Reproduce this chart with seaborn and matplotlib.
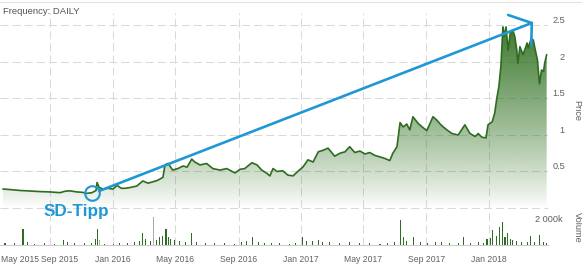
import numpy as np
import pandas as pd
import seaborn as sns
import matplotlib
matplotlib.use("Agg")
import matplotlib.pyplot as plt
from matplotlib.patches import PathPatch
from matplotlib.lines import Line2D
from matplotlib.transforms import ScaledTranslation
import matplotlib.dates as mdates

# ---------------- data ----------------
price_dates = [
    "2015-06-01", "2015-06-19", "2015-07-04", "2015-07-18", "2015-07-30", "2015-08-12",
    "2015-09-01", "2015-09-10", "2015-09-20", "2015-09-30", "2015-10-09", "2015-10-23",
    "2015-11-02", "2015-11-11", "2015-11-21", "2015-11-29", "2015-12-01", "2015-12-05",
    "2015-12-13", "2015-12-22", "2016-01-01", "2016-01-09", "2016-01-17", "2016-01-24",
    "2016-02-03", "2016-02-16", "2016-02-28", "2016-03-09", "2016-03-19", "2016-03-28",
    "2016-04-07", "2016-04-11", "2016-04-17", "2016-04-26", "2016-05-06", "2016-05-16",
    "2016-05-24", "2016-06-02", "2016-06-08", "2016-06-18", "2016-07-01", "2016-07-13",
    "2016-07-27", "2016-08-09", "2016-08-25", "2016-09-04", "2016-09-13", "2016-09-27",
    "2016-10-07", "2016-10-16", "2016-10-26", "2016-11-01", "2016-11-07", "2016-11-15",
    "2016-11-26", "2016-12-06", "2016-12-16", "2016-12-25", "2017-01-04", "2017-01-14",
    "2017-01-24", "2017-02-03", "2017-02-12", "2017-02-22", "2017-03-07", "2017-03-17",
    "2017-03-27", "2017-04-05", "2017-04-15", "2017-04-25", "2017-05-05", "2017-05-14",
    "2017-05-24", "2017-06-03", "2017-06-12", "2017-06-22", "2017-06-28", "2017-07-06",
    "2017-07-12", "2017-07-18", "2017-07-25", "2017-07-31", "2017-08-06", "2017-08-16",
    "2017-08-24", "2017-09-02", "2017-09-14", "2017-09-22", "2017-09-28", "2017-10-04",
    "2017-10-11", "2017-10-21", "2017-11-02", "2017-11-15", "2017-11-25", "2017-12-05",
    "2017-12-11", "2017-12-18", "2017-12-26", "2017-12-30", "2018-01-07", "2018-01-12",
    "2018-01-16", "2018-01-20", "2018-01-24", "2018-01-28", "2018-01-30", "2018-02-03",
    "2018-02-07", "2018-02-11", "2018-02-16", "2018-02-20", "2018-02-24", "2018-02-26",
    "2018-03-02", "2018-03-08", "2018-03-16", "2018-03-18", "2018-03-24", "2018-03-28",
    "2018-04-01", "2018-04-05", "2018-04-09", "2018-04-13", "2018-04-17", "2018-04-19",
    "2018-04-23",
]
price_values = [
    0.26, 0.25, 0.24, 0.235, 0.23, 0.225,
    0.22, 0.215, 0.21, 0.23, 0.235, 0.22,
    0.215, 0.20, 0.21, 0.24, 0.35, 0.28,
    0.26, 0.27, 0.26, 0.31, 0.27, 0.27,
    0.28, 0.30, 0.37, 0.34, 0.36, 0.38,
    0.42, 0.59, 0.61, 0.52, 0.54, 0.575,
    0.56, 0.67, 0.63, 0.59, 0.61, 0.54,
    0.52, 0.54, 0.48, 0.53, 0.54, 0.62,
    0.59, 0.52, 0.475, 0.44, 0.54, 0.50,
    0.51, 0.45, 0.44, 0.50, 0.56, 0.66,
    0.63, 0.77, 0.79, 0.82, 0.71, 0.75,
    0.77, 0.84, 0.76, 0.78, 0.74, 0.76,
    0.72, 0.70, 0.68, 0.65, 0.75, 0.84,
    1.17, 1.11, 1.15, 1.07, 1.25, 1.16,
    1.11, 1.06, 1.25, 1.20, 1.15, 1.11,
    1.07, 1.02, 1.00, 1.14, 1.02, 0.98,
    1.02, 0.97, 0.96, 1.14, 1.18, 1.30,
    1.50, 1.66, 1.94, 2.48, 2.35, 2.48,
    2.16, 2.39, 2.44, 2.35, 2.16, 1.98,
    2.21, 2.10, 2.26, 2.19, 2.32, 2.30,
    2.16, 2.03, 1.70, 1.89, 1.87, 1.98,
    2.10,
]

vol_dates = [
    "2015-06-05", "2015-06-24", "2015-07-10", "2015-07-18", "2015-08-02", "2015-08-21",
    "2015-09-10", "2015-09-26", "2015-10-05", "2015-10-19", "2015-11-07", "2015-11-21",
    "2015-11-27", "2015-12-01", "2015-12-05", "2015-12-16", "2016-01-01", "2016-01-14",
    "2016-01-30", "2016-02-12", "2016-02-22", "2016-02-28", "2016-03-05", "2016-03-13",
    "2016-03-19", "2016-03-26", "2016-04-01", "2016-04-07", "2016-04-13", "2016-04-17",
    "2016-04-22", "2016-04-30", "2016-05-10", "2016-05-20", "2016-06-02", "2016-06-12",
    "2016-06-28", "2016-07-17", "2016-08-05", "2016-08-25", "2016-09-07", "2016-09-17",
    "2016-09-29", "2016-10-09", "2016-10-22", "2016-11-05", "2016-11-20", "2016-12-10",
    "2016-12-21", "2017-01-04", "2017-01-12", "2017-01-22", "2017-02-03", "2017-02-12",
    "2017-02-25", "2017-03-17", "2017-04-05", "2017-04-25", "2017-05-14", "2017-06-03",
    "2017-06-18", "2017-07-02", "2017-07-12", "2017-07-18", "2017-07-25", "2017-08-08",
    "2017-08-20", "2017-09-04", "2017-09-18", "2017-10-01", "2017-10-17", "2017-11-02",
    "2017-11-13", "2017-11-25", "2017-12-11", "2017-12-22", "2017-12-28", "2018-01-03",
    "2018-01-08", "2018-01-16", "2018-01-22", "2018-01-28", "2018-02-01", "2018-02-05",
    "2018-02-11", "2018-02-16", "2018-02-24", "2018-03-06", "2018-03-16", "2018-03-22",
    "2018-03-30", "2018-04-09", "2018-04-17", "2018-04-23",
]
vol_values = [  # thousands
    120, 150, 1280, 200, 100, 120,
    90, 380, 200, 150, 130, 180,
    500, 1280, 400, 100, 80, 150,
    120, 200, 350, 950, 500, 300,
    2180, 400, 600, 700, 1280, 650,
    500, 400, 300, 250, 920, 200,
    180, 150, 180, 100, 250, 300,
    640, 200, 150, 120, 150, 100,
    180, 640, 350, 300, 380, 250,
    200, 150, 200, 150, 120, 100,
    120, 250, 1980, 600, 300, 640,
    200, 150, 200, 250, 150, 180,
    640, 150, 200, 150, 460, 540,
    1150, 700, 1400, 1800, 600, 920,
    500, 400, 300, 200, 250, 690,
    200, 770, 200, 150,
]
vol_grey_dates = ["2016-03-19", "2015-12-05"]

tick_dates = ["2015-09-01", "2016-01-01", "2016-05-01", "2016-09-01", "2017-01-01",
              "2017-05-01", "2017-09-01", "2018-01-01"]
tick_labels = ["Sep 2015", "Jan 2016", "May 2016", "Sep 2016", "Jan 2017",
               "May 2017", "Sep 2017", "Jan 2018"]
first_label = "May 2015"
price_ticks = [0.5, 1, 1.5, 2, 2.5]
price_tick_labels = ["0.5", "1", "1.5", "2", "2.5"]
vol_ticks = [2000]
vol_tick_labels = ["2 000k"]

# annotation (blue arrow + circle)
tip_date, tip_price = "2015-11-21", 0.205
arrow_start = ("2015-12-05", 0.233)
arrow_apex = ("2018-03-25", 2.534)
arrow_barb1 = ("2018-02-07", 2.644)
arrow_barb2 = ("2018-03-24", 2.233)
tip_text = "SD-Tipp"
tip_text_pos = ("2015-10-21", -0.116)

# ---------------- style ----------------
sns.set_style("white")
plt.rcParams["font.family"] = ["Liberation Sans", "DejaVu Sans"]
plt.rcParams["lines.scale_dashes"] = False

GREEN_LINE = "#2f6b22"
GREEN_FILL = (0.20, 0.45, 0.14)
BLUE = "#1e98d4"
GRID = "#d9d9d9"
TXT = "#606060"
DASH = (0, (5.8, 2.9))
XLAB = 6.2

W, H = 582, 266
fig = plt.figure(figsize=(W / 100, H / 100), dpi=100)


def rect(x0, y0, x1, y1):
    return [x0 / W, 1 - y1 / H, (x1 - x0) / W, (y1 - y0) / H]


ax = fig.add_axes(rect(0, 13, 548, 208))
axv = fig.add_axes(rect(0, 209, 548, 245))
axv.set_facecolor("none")

x_lo = pd.Timestamp("2015-05-26 07:00")
x_hi = pd.Timestamp("2018-04-25 14:00")
y_hi = 2.671

df = pd.DataFrame({"date": pd.to_datetime(price_dates), "price": price_values})
sns.lineplot(data=df, x="date", y="price", ax=ax, color=GREEN_LINE,
             linewidth=1.2, zorder=4)

# gradient area under the line
poly = ax.fill_between(df["date"], df["price"], 0, facecolor="none", edgecolor="none")
clip = PathPatch(poly.get_paths()[0], transform=ax.transData,
                 facecolor="none", edgecolor="none")
ax.add_patch(clip)
n = 256
rgba = np.zeros((n, 1, 4))
rgba[..., 0], rgba[..., 1], rgba[..., 2] = GREEN_FILL
rgba[:, 0, 3] = np.linspace(1.0, 0.0, n) ** 0.85
im = ax.imshow(rgba, extent=[mdates.date2num(x_lo), mdates.date2num(x_hi), 0, y_hi],
               aspect="auto", origin="upper", zorder=2, interpolation="bilinear")
im.set_clip_path(clip)

ax.set_xlim(x_lo, x_hi)
ax.set_ylim(0, y_hi)
ax.set_xlabel("")
ax.set_ylabel("")
for s in ax.spines.values():
    s.set_visible(False)

ticks = pd.to_datetime(tick_dates)
ax.set_xticks(ticks)
ax.set_xticklabels([])
ax.tick_params(axis="x", length=0)
ax.set_yticks(price_ticks)
ax.set_yticklabels(price_tick_labels)
ax.yaxis.tick_right()
ax.tick_params(axis="y", length=0, pad=12.2, labelsize=6.6, labelcolor=TXT)
plt.setp(ax.get_yticklabels(), ha="right", va="bottom")
ax.grid(True, color=GRID, linestyle=DASH, linewidth=0.75)
ax.set_axisbelow(True)
ax.axhline(0, color=GRID, linestyle=DASH, linewidth=0.75, clip_on=False, zorder=1)
ax.text(577 / 548, 0.5, "Price", transform=ax.transAxes, rotation=270,
        ha="center", va="center", fontsize=6.6, color=TXT)

# volume
vd = pd.to_datetime(vol_dates)
grey = set(pd.to_datetime(vol_grey_dates))
colors = ["#a9a9a9" if d in grey else GREEN_LINE for d in vd]
axv.bar(vd, vol_values, width=2.0, color=colors, linewidth=0, zorder=3)
axv.set_xlim(x_lo, x_hi)
axv.set_ylim(0, 2800)
for k, s in axv.spines.items():
    s.set_visible(k == "bottom")
axv.spines["bottom"].set_color("#cccccc")
axv.spines["bottom"].set_linewidth(0.8)
axv.set_xticks(ticks)
axv.set_xticklabels(tick_labels)
axv.tick_params(axis="x", length=4, width=0.7, color="#cccccc", pad=3.5,
                labelsize=XLAB, labelcolor=TXT)
# the first label sits a little to the right, as in the original
lab0 = axv.get_xticklabels()[0]
lab0.set_transform(lab0.get_transform() + ScaledTranslation(9 / 100, 0, fig.dpi_scale_trans))
axv.set_yticks(vol_ticks)
axv.set_yticklabels(vol_tick_labels)
axv.yaxis.tick_right()
axv.tick_params(axis="y", length=0, pad=10.8, labelsize=6.6, labelcolor=TXT)
plt.setp(axv.get_yticklabels(), ha="right", va="center")
axv.grid(True, axis="x", color=GRID, linestyle=DASH, linewidth=0.75)
axv.set_axisbelow(True)
axv.text(577 / 548, 0.5, "Volume", transform=axv.transAxes, rotation=270,
         ha="center", va="center", fontsize=6.6, color=TXT)

fig.text(1 / W, 1 - 259 / H, first_label, ha="left", va="center", fontsize=XLAB, color=TXT)

# annotation
def P(d):
    return pd.Timestamp(d)

ax.plot([P(arrow_start[0]), P(arrow_apex[0])], [arrow_start[1], arrow_apex[1]],
        color=BLUE, lw=1.9, solid_capstyle="round", zorder=6, clip_on=False)
ax.plot([P(arrow_barb1[0]), P(arrow_apex[0]), P(arrow_barb2[0])],
        [arrow_barb1[1], arrow_apex[1], arrow_barb2[1]],
        color=BLUE, lw=1.9, solid_capstyle="round", solid_joinstyle="miter",
        zorder=6, clip_on=False)
ax.plot([P(tip_date)], [tip_price], marker="o", ms=10.5, mfc="none", mec=BLUE,
        mew=1.5, zorder=6, clip_on=False)
ax.text(P(tip_text_pos[0]), tip_text_pos[1], tip_text, ha="center", va="baseline",
        fontsize=12.3, fontweight="bold", color=BLUE, zorder=7, clip_on=False)

# header
fig.add_artist(Line2D([0, 1], [1 - 1.5 / H] * 2, color="#e2e2e2", lw=0.8,
                      transform=fig.transFigure))
fig.text(3 / W, 1 - 12 / H, "Frequency: DAILY", ha="left", va="center",
         fontsize=6.8, color="#555555")

fig.savefig("out.png", dpi=100, facecolor="white")
